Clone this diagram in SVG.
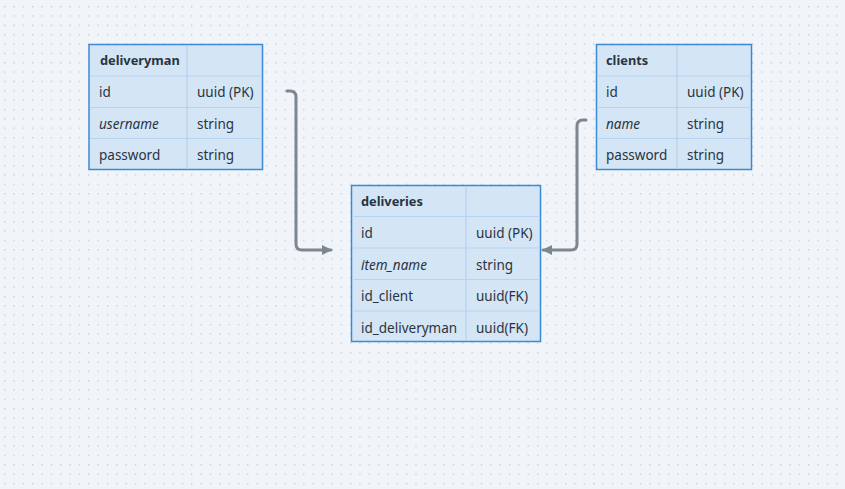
<svg xmlns="http://www.w3.org/2000/svg" width="845" height="489" viewBox="0 0 845 489">
<defs>
<pattern id="dots" x="4" y="6" width="9.35" height="9.35" patternUnits="userSpaceOnUse">
<rect x="0" y="0" width="1.3" height="1.3" fill="#c3cad3"/>
</pattern>
<marker id="arr" viewBox="0 0 10 10" refX="9" refY="5" markerWidth="3.4" markerHeight="3.4" orient="auto" markerUnits="strokeWidth">
<path d="M0,0 L10,5 L0,10 z" fill="#7c8792"/>
</marker>
</defs>
<style>
.tbl{fill:#d4e5f5;stroke:#3a8ad6;stroke-width:1.5}
.ln{stroke:#b6d3ef;stroke-width:1.2;fill:none}
.t{font-family:"Noto Sans","Open Sans","DejaVu Sans",sans-serif;font-size:13.5px;fill:#2a3441}
.h{font-weight:bold;font-size:12.8px}
.i{font-style:italic}
.con{fill:none;stroke:#7c8792;stroke-width:3;stroke-linecap:round;stroke-linejoin:round}
</style>
<rect width="845" height="489" fill="#f1f4f8"/>
<rect width="845" height="489" fill="url(#dots)"/>

<g id="connectors">
<path class="con" d="M287,91 H290 Q296,91 296,97 V244 Q296,250 302,250 H331" marker-end="url(#arr)"/>
<path class="con" d="M586,120 H583 Q577,120 577,126 V244 Q577,250 571,250 H543" marker-end="url(#arr)"/>
</g>

<g id="deliveryman">
<rect class="tbl" x="89" y="44.5" width="173.5" height="125"/>
<path class="ln" d="M90,76 H262 M90,107.5 H262 M90,138.5 H262 M187,45 V169"/>
<text class="t h" x="100" y="65">deliveryman</text>
<text class="t" x="99" y="97">id</text>
<text class="t" x="197" y="97">uuid (PK)</text>
<text class="t i" x="99" y="128.5">username</text>
<text class="t" x="197" y="128.5">string</text>
<text class="t" x="99" y="159.5">password</text>
<text class="t" x="197" y="159.5">string</text>
</g>

<g id="clients">
<rect class="tbl" x="596.5" y="44.5" width="155" height="125"/>
<path class="ln" d="M597,76 H751 M597,107.5 H751 M597,138.5 H751 M677,45 V169"/>
<text class="t h" x="606" y="65">clients</text>
<text class="t" x="606" y="97">id</text>
<text class="t" x="687" y="97">uuid (PK)</text>
<text class="t i" x="606" y="128.5">name</text>
<text class="t" x="687" y="128.5">string</text>
<text class="t" x="606" y="159.5">password</text>
<text class="t" x="687" y="159.5">string</text>
</g>

<g id="deliveries">
<rect class="tbl" x="351.5" y="185.5" width="189" height="156"/>
<path class="ln" d="M352,216.5 H540 M352,248 H540 M352,279.5 H540 M352,311 H540 M466,186 V341"/>
<text class="t h" x="361" y="206">deliveries</text>
<text class="t" x="361" y="238">id</text>
<text class="t" x="476" y="238">uuid (PK)</text>
<text class="t i" x="361" y="269.5">item_name</text>
<text class="t" x="476" y="269.5">string</text>
<text class="t" x="361" y="301">id_client</text>
<text class="t" x="476" y="301">uuid(FK)</text>
<text class="t" x="361" y="332.5">id_deliveryman</text>
<text class="t" x="476" y="332.5">uuid(FK)</text>
</g>
</svg>
